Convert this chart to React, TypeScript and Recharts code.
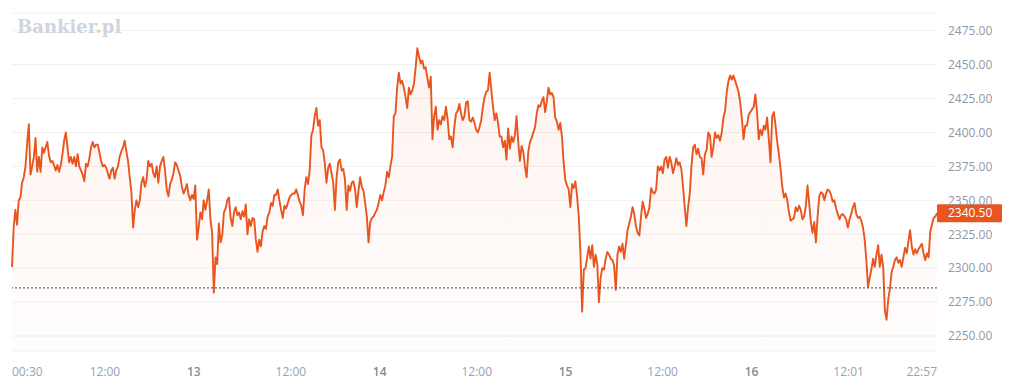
import { AreaChart, Area, XAxis, YAxis, CartesianGrid, ReferenceLine } from 'recharts'

// price readings, chronological, evenly spaced in trading time
const part1 = [
  2301, 2330, 2343, 2332, 2350, 2352, 2363, 2367, 2375, 2392,
  2406, 2369, 2375, 2382, 2396, 2371, 2382, 2371, 2389, 2385,
  2389, 2393, 2383, 2378, 2379, 2376, 2372, 2376, 2371, 2376,
  2384, 2394, 2400, 2389, 2378, 2382, 2377, 2382, 2375, 2384,
  2375, 2372, 2369, 2364, 2377, 2375, 2381, 2389, 2393, 2389,
  2391, 2391, 2385, 2379, 2375, 2376, 2374, 2370, 2366, 2372,
  2374, 2366, 2372, 2375, 2382, 2386, 2389, 2394, 2386, 2379,
  2367, 2356, 2330, 2343, 2350, 2345, 2350, 2363, 2367, 2360,
  2365, 2379, 2375, 2377, 2370, 2367, 2375, 2363, 2375, 2379,
  2382, 2372, 2358, 2353, 2362,
]
const part2 = [
  2365, 2370, 2378, 2376, 2372, 2368, 2360, 2355, 2358, 2362,
  2354, 2350, 2354, 2351, 2361, 2321, 2330, 2341, 2336, 2350,
  2343, 2350, 2358, 2336, 2326, 2282, 2308, 2303, 2333, 2319,
  2324, 2341, 2344, 2350, 2352, 2337, 2331, 2341, 2345, 2339,
  2341, 2336, 2342, 2338, 2347, 2325, 2336, 2331, 2337, 2336,
  2321, 2312, 2321, 2316, 2327, 2331, 2329, 2338, 2341, 2348,
  2346, 2354, 2354, 2358, 2350, 2343, 2337, 2346, 2344, 2348,
  2352, 2354, 2355, 2355, 2358, 2354, 2349, 2346, 2339, 2358,
  2367, 2362, 2372, 2398, 2402, 2412, 2418, 2405, 2409, 2389,
  2387, 2377, 2363, 2374, 2377, 2370, 2363, 2343,
]
const part3 = [
  2367, 2378, 2380, 2372, 2373, 2365, 2343, 2361, 2357, 2363,
  2364, 2358, 2345, 2357, 2367, 2360, 2357, 2348, 2338, 2319,
  2334, 2337, 2338, 2341, 2343, 2348, 2354, 2350, 2356, 2361,
  2371, 2367, 2375, 2382, 2412, 2414, 2433, 2444, 2436, 2438,
  2433, 2426, 2418, 2433, 2428, 2431, 2436, 2448, 2462, 2456,
  2451, 2453, 2447, 2448, 2440, 2433, 2441, 2395, 2412, 2419,
  2402, 2409, 2406, 2412, 2409, 2419, 2410, 2395, 2397, 2389,
  2404, 2414, 2416, 2421, 2414, 2409, 2412, 2422, 2423, 2409,
  2408, 2411, 2407, 2402, 2400, 2404, 2409, 2419, 2426, 2430,
  2431, 2444, 2431, 2419, 2409, 2414, 2407, 2397,
]
const part4 = [
  2397, 2389, 2394, 2380, 2403, 2388, 2397, 2393, 2398, 2412,
  2393, 2379, 2390, 2386, 2375, 2367, 2386, 2393, 2396, 2400,
  2404, 2414, 2420, 2419, 2423, 2426, 2415, 2423, 2433, 2428,
  2429, 2426, 2411, 2408, 2402, 2407, 2397, 2378, 2365, 2361,
  2358, 2345, 2362, 2359, 2364, 2353, 2338, 2311, 2268, 2299,
  2300, 2308, 2316, 2307, 2317, 2301, 2310, 2303, 2275, 2293,
  2300, 2299, 2307, 2312, 2310, 2307, 2306, 2302, 2284, 2310,
  2316, 2312, 2318, 2307, 2317, 2328, 2333, 2338, 2345, 2340,
  2331, 2326, 2324, 2338, 2349, 2344, 2337, 2340, 2345, 2359,
  2356, 2355, 2358, 2375, 2372, 2375, 2370, 2380,
]
const part5 = [
  2382, 2374, 2382, 2378, 2370, 2375, 2381, 2376, 2378, 2373,
  2360, 2345, 2331, 2345, 2355, 2375, 2389, 2391, 2384, 2388,
  2382, 2381, 2369, 2384, 2387, 2400, 2398, 2382, 2389, 2400,
  2396, 2398, 2394, 2400, 2411, 2416, 2430, 2438, 2442, 2439,
  2442, 2438, 2434, 2430, 2422, 2410, 2395, 2405, 2405, 2413,
  2415, 2417, 2419, 2428, 2415, 2395, 2402, 2398, 2405, 2402,
  2411, 2395, 2378, 2412, 2415, 2405, 2393, 2384, 2373, 2360,
  2352, 2355, 2350, 2341, 2335, 2336, 2337, 2345, 2342, 2346,
  2343, 2336, 2338, 2346, 2361, 2348, 2334, 2326, 2334, 2319,
  2338, 2353, 2356, 2355, 2350, 2355, 2358, 2357,
]
const part6 = [
  2354, 2349, 2350, 2344, 2340, 2336, 2339, 2340, 2338, 2336,
  2330, 2336, 2340, 2345, 2348, 2340, 2337, 2338, 2335, 2330,
  2321, 2306, 2286, 2293, 2299, 2307, 2301, 2310, 2317, 2301,
  2310, 2301, 2269, 2262, 2277, 2285, 2297, 2301, 2306, 2308,
  2304, 2306, 2301, 2308, 2315, 2311, 2320, 2328, 2316, 2310,
  2314, 2311, 2314, 2316, 2318, 2311, 2306, 2311, 2308, 2327,
  2332, 2337, 2338, 2340.5,
]

const PRICES = [...part1, ...part2, ...part3, ...part4, ...part5, ...part6]

// trading hours (23h sessions) from 12th 00:30 to 16th 22:57
const SPAN_HOURS = 114.45
const TICK_HOURS = [0, 11.5, 22.5, 34.5, 45.5, 57.5, 68.5, 80.5, 91.5, 103.52, 114.45]
const TICK_LABELS = ['00:30', '12:00', '13', '12:00', '14', '12:00', '15', '12:00', '16', '12:01', '22:57']
const Y_TICKS = [2250, 2275, 2300, 2325, 2350, 2375, 2400, 2425, 2450, 2475]
const PREV_CLOSE = 2285.5
const LAST = PRICES[PRICES.length - 1]

const ORANGE = '#e9551f'

const data = PRICES.map((p, i) => ({ t: (i * SPAN_HOURS) / (PRICES.length - 1), p }))

const TimeTick = ({ x, y, index }: any) => {
  const label = TICK_LABELS[index]
  const anchor = index === 0 ? 'start' : index === TICK_LABELS.length - 1 ? 'end' : 'middle'
  const isDay = /^\d+$/.test(label)
  return (
    <text x={x} y={y} dy="0.71em" textAnchor={anchor} fontSize={12}
      fill={isDay ? '#838c9b' : '#9aa2af'} fontWeight={isDay ? 600 : 400}>
      {label}
    </text>
  )
}

const PriceBadge = ({ viewBox, value }: any) => {
  if (!viewBox) return null
  const x = viewBox.x + viewBox.width
  const y = viewBox.y
  return (
    <g>
      <rect x={x} y={y - 9} width={65} height={18} fill={ORANGE} rx={1} />
      <text x={x + 11} y={y} dy="0.355em" fill="#fff" fontSize={12}>{value.toFixed(2)}</text>
    </g>
  )
}

export default function App() {
  return (
    <div style={{ position: 'fixed', top: 0, left: 0, width: 1024, height: 388, background: '#fff',
      fontFamily: "'Open Sans', 'Noto Sans', sans-serif" }}>
      <AreaChart width={1024} height={388} data={data} margin={{ top: 13, right: 0, bottom: 0, left: 12 }}>
        <defs>
          <linearGradient id="fillGrad" x1="0" y1="0" x2="0" y2="1">
            <stop offset="0%" stopColor={ORANGE} stopOpacity={0.12} />
            <stop offset="100%" stopColor={ORANGE} stopOpacity={0.02} />
          </linearGradient>
        </defs>
        <CartesianGrid vertical={false} stroke="#efefef" />
        <XAxis dataKey="t" type="number" domain={[0, SPAN_HOURS]} ticks={TICK_HOURS} interval={0}
          height={37} axisLine={false} tickLine={false} tickSize={0} tickMargin={16} tick={<TimeTick />} />
        <YAxis orientation="right" domain={[2239, 2488]} ticks={Y_TICKS} interval={0} allowDataOverflow
          width={87} axisLine={false} tickLine={false} tickSize={0} tickMargin={11}
          tick={{ fill: '#8f98a8', fontSize: 12 }} tickFormatter={(v) => v.toFixed(2)} />
        <ReferenceLine y={PREV_CLOSE} stroke="#3e4b68" strokeDasharray="2 2" />
        <Area type="linear" dataKey="p" stroke={ORANGE} strokeWidth={1.9} strokeLinejoin="round"
          fill="url(#fillGrad)" dot={false} activeDot={false} isAnimationActive={false} />
        <ReferenceLine y={LAST} stroke="none" label={<PriceBadge value={LAST} />} />
      </AreaChart>
      <div style={{ position: 'absolute', left: 17, top: 17, fontFamily: "'DejaVu Serif', serif",
        fontWeight: 700, fontSize: 18, lineHeight: '20px', color: '#cfd5de' }}>
        Bankier<span style={{ color: '#f3c2b0' }}>.</span>pl
      </div>
    </div>
  )
}
